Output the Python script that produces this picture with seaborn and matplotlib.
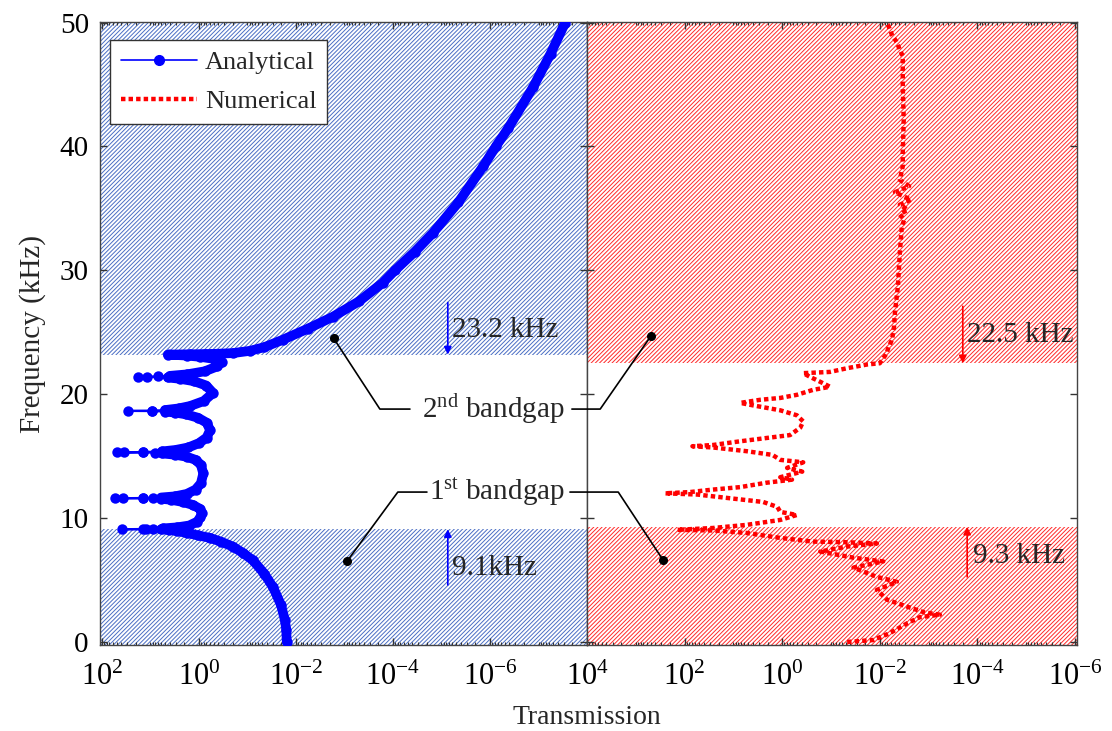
import numpy as np
import matplotlib
matplotlib.use("Agg")
import matplotlib.pyplot as plt
import seaborn as sns
from matplotlib.lines import Line2D
from matplotlib.ticker import FixedLocator, LogLocator, LogFormatterMathtext, NullFormatter

# ---------------- data ----------------
# Analytical transmission: frequency (kHz) and log10 of transmission
ana_freq = [0.0, 1.0, 1.8, 3.0, 4.4, 5.5, 6.6, 7.2, 7.7, 8.1, 8.4, 8.6, 8.8, 8.95,
            9.05, 9.08, 9.1, 9.1, 9.1,
            9.12, 9.16, 9.25, 9.4, 9.7, 10.05, 10.4, 10.75, 11.05, 11.3, 11.48, 11.56, 11.6, 11.6, 11.6, 11.6,
            11.62, 11.66, 11.75, 11.95, 12.3, 12.8, 13.6, 14.3, 14.7, 14.95, 15.12, 15.22, 15.28, 15.3, 15.3, 15.3,
            15.33, 15.38, 15.5, 15.7, 16.05, 16.5, 17.1, 17.7, 18.1, 18.38, 18.52, 18.6, 18.64, 18.65,
            18.67, 18.72, 18.85, 19.05, 19.45, 20.1, 20.7, 21.05, 21.25, 21.35, 21.4, 21.4,
            21.43, 21.48, 21.6, 21.85, 22.25, 22.6, 22.85, 23.02, 23.12, 23.2,
            23.22, 23.24, 23.27, 23.32, 23.5, 23.8, 24.4, 25.3, 26.25, 27.5, 29.0, 30.0, 31.5, 33.0,
            35.5, 38.4, 40.0, 41.5, 44.8, 47.5, 50.0]
ana_log10T = [-1.81, -1.80, -1.77, -1.69, -1.53, -1.35, -1.11, -0.90, -0.70, -0.45, -0.23, 0.02, 0.25, 0.45,
              0.62, 0.78, 0.95, 1.15, 1.59,
              1.10, 0.75, 0.45, 0.20, 0.04, -0.03, -0.06, -0.02, 0.12, 0.33, 0.58, 0.78, 0.95, 1.15, 1.57, 1.73,
              1.15, 0.78, 0.50, 0.25, 0.07, -0.04, -0.09, -0.04, 0.07, 0.25, 0.50, 0.76, 0.90, 1.15, 1.55, 1.69,
              1.15, 0.76, 0.48, 0.22, 0.00, -0.16, -0.23, -0.16, 0.02, 0.27, 0.50, 0.70, 0.97, 1.46,
              0.97, 0.70, 0.42, 0.18, -0.10, -0.29, -0.15, 0.10, 0.40, 0.64, 1.07, 1.26,
              0.85, 0.60, 0.25, -0.12, -0.38, -0.47, -0.32, -0.02, 0.25, 0.64,
              0.19, -0.12, -0.40, -0.70, -1.05, -1.35, -1.73, -2.25, -2.76, -3.30, -3.79, -4.04, -4.45, -4.82,
              -5.35, -5.86, -6.12, -6.38, -6.89, -7.25, -7.55]

# Numerical transmission: frequency (kHz) and log10 of transmission
num_freq = [0.0, 0.15, 0.7, 1.5, 2.0, 2.2, 2.4, 2.85, 3.4, 4.2, 4.85, 5.25, 6.0, 6.5, 6.8, 7.3, 7.7, 7.95,
            8.05, 8.1, 8.4, 8.8, 9.0, 9.05, 9.2, 9.45, 9.85, 10.25, 10.5, 10.9, 11.3, 11.6, 11.9, 12.0,
            12.1, 12.3, 12.5, 12.85, 13.1, 13.3, 13.75, 14.05, 14.5, 14.7, 15.1, 15.4, 15.7, 15.8, 15.9,
            16.2, 16.5, 16.7, 17.3, 17.8, 18.3, 18.7, 19.1, 19.3, 19.55, 19.7, 19.95, 20.35, 20.6, 21.0,
            21.4, 21.7, 21.8, 22.1, 22.4, 22.5, 23.3, 23.7, 24.4, 25.4, 26.6, 28.7, 31.4, 33.5, 34.1, 34.5,
            34.9, 35.3, 35.7, 36.3, 36.8, 37.3, 38.4, 39.5, 42.2, 44.8, 47.3, 47.8, 48.4, 49.0, 50.0]
num_log10T = [-1.33, -1.86, -2.20, -2.56, -2.82, -3.23, -2.90, -2.56, -2.15, -1.94, -2.35, -1.94, -1.46, -2.07,
              -1.46, -0.78, -1.33, -1.94, -1.33, -0.63, 0.04, 0.73, 1.42, 2.15, 1.42, 0.73, 0.04, -0.30, 0.04,
              0.10, 0.39, 1.07, 1.74, 2.40, 1.89, 1.42, 0.86, 0.33, -0.20, 0.04, -0.41, -0.10, -0.43, 0.04,
              0.20, 0.73, 1.42, 1.84, 1.42, 0.86, 0.25, -0.16, -0.37, -0.43, -0.30, 0.04, 0.60, 0.86, 0.45,
              0.04, -0.30, -0.63, -0.98, -0.78, -0.57, -0.43, -0.98, -1.33, -1.74, -2.00, -2.14, -2.17, -2.25,
              -2.29, -2.31, -2.37, -2.41, -2.45, -2.50, -2.41, -2.57, -2.41, -2.64, -2.31, -2.60, -2.41, -2.47,
              -2.47, -2.49, -2.47, -2.47, -2.41, -2.35, -2.25, -2.15]

# band-gap limits (kHz)
ana_gaps = [(9.1, 23.2)]
num_gaps = [(9.3, 22.5)]
ana_edge_labels = ["9.1kHz", "23.2 kHz"]
num_edge_labels = ["9.3 kHz", "22.5 kHz"]
legend_labels = ["Analytical", "Numerical"]

ana_T = 10.0 ** np.asarray(ana_log10T)
num_T = 10.0 ** np.asarray(num_log10T)

# the densely sampled stretches of the analytical curve merge into a solid band;
# the sharp resonance peaks (high transmission) are sampled sparsely
dense = np.asarray(ana_log10T) <= 0.8
seg_id = np.cumsum(np.r_[0, np.diff(dense.astype(int)) != 0])
band_T = ana_T[dense]
band_f = np.asarray(ana_freq)[dense]
band_seg = seg_id[dense]

# ---------------- style ----------------
sns.set_theme(style="ticks")
plt.rcParams["font.family"] = ["Liberation Serif", "DejaVu Serif"]
plt.rcParams["mathtext.fontset"] = "custom"
plt.rcParams["mathtext.rm"] = "Liberation Serif"
plt.rcParams["mathtext.it"] = "Liberation Serif:italic"
plt.rcParams["mathtext.bf"] = "Liberation Serif:bold"
plt.rcParams["hatch.linewidth"] = 0.7
plt.rcParams["axes.unicode_minus"] = False

BLUE_HATCH = "#4a6ec4"
RED_HATCH = "#ff2a2a"
FS = 21

fig = plt.figure(figsize=(11.12, 7.31), dpi=100)
axL = fig.add_axes([0.0899, 0.1176, 0.4380, 0.8523])
axR = fig.add_axes([0.5279, 0.1176, 0.4406, 0.8523])

YLIM = (-0.25, 50.05)

for ax, xlim, majors in [
    (axL, (10 ** 2.04, 1e-8), [1e2, 1e0, 1e-2, 1e-4, 1e-6]),
    (axR, (1e4, 10 ** -6.04), [1e4, 1e2, 1e0, 1e-2, 1e-4, 1e-6]),
]:
    ax.set_xscale("log")
    ax.set_xlim(*xlim)
    ax.set_ylim(*YLIM)
    ax.xaxis.set_major_locator(FixedLocator(majors))
    ax.xaxis.set_major_formatter(LogFormatterMathtext())
    ax.xaxis.set_minor_locator(LogLocator(base=10, subs=np.arange(1, 10) * 1.0, numticks=200))
    ax.xaxis.set_minor_formatter(NullFormatter())
    ax.set_yticks([0, 10, 20, 30, 40, 50])
    ax.tick_params(axis="both", which="both", direction="in", top=True, right=True,
                   labelsize=FS, colors="#333333", labelcolor="black", pad=8)
    ax.tick_params(axis="x", which="major", labelsize=22, pad=13)
    ax.tick_params(axis="both", which="major", length=5, width=1)
    ax.tick_params(axis="both", which="minor", length=2.5, width=0.8)
    for s in ax.spines.values():
        s.set_color("#444444")
        s.set_linewidth(1.0)

axR.tick_params(axis="y", labelleft=False)

# hatched stop bands
HATCH = "////////"
for lo, hi in ana_gaps:
    axL.axhspan(YLIM[0], lo, facecolor="none", edgecolor=BLUE_HATCH, hatch=HATCH, linewidth=0, zorder=0)
    axL.axhspan(hi, YLIM[1], facecolor="none", edgecolor=BLUE_HATCH, hatch=HATCH, linewidth=0, zorder=0)
for lo, hi in num_gaps:
    axR.axhspan(YLIM[0], lo, facecolor="none", edgecolor=RED_HATCH, hatch=HATCH, linewidth=0, zorder=0)
    axR.axhspan(hi, YLIM[1], facecolor="none", edgecolor=RED_HATCH, hatch=HATCH, linewidth=0, zorder=0)

# transmission curves
sns.lineplot(x=band_T, y=band_f, units=band_seg, sort=False, estimator=None, ax=axL, color="blue",
             linewidth=7.0, legend=False, zorder=3)
sns.lineplot(x=ana_T, y=ana_freq, sort=False, estimator=None, ax=axL, color="blue",
             linewidth=1.6, marker="o", markersize=7.5, markeredgewidth=0, legend=False, zorder=3)
sns.lineplot(x=num_T, y=num_freq, sort=False, estimator=None, ax=axR, color="red",
             linewidth=3.2, linestyle=(0, (1, 0.7)), legend=False, zorder=3)

# legend
handles = [
    Line2D([], [], color="blue", linewidth=1.2, marker="o", markersize=7),
    Line2D([], [], color="red", linewidth=3.2, linestyle=(0, (1, 0.7))),
]
leg = axL.legend(handles, legend_labels, loc="upper left", bbox_to_anchor=(0.0205, 0.971),
                 borderaxespad=0, fontsize=19, frameon=True, fancybox=False, framealpha=1,
                 edgecolor="#333333", handlelength=2.9, handletextpad=0.3, borderpad=0.4,
                 labelspacing=0.6)
leg.get_frame().set_linewidth(1.0)
leg.set_zorder(5)

# band-edge arrows and labels
def edge_arrow(ax, x_log, f_from, f_to, color):
    ax.annotate("", xy=(10 ** x_log, f_to), xytext=(10 ** x_log, f_from),
                arrowprops=dict(arrowstyle="-|>", color=color, lw=1.2, mutation_scale=11,
                                shrinkA=0, shrinkB=0), zorder=4)

edge_arrow(axL, -5.13, 27.4, ana_gaps[0][1], "blue")
edge_arrow(axL, -5.13, 4.6, ana_gaps[0][0], "blue")
axL.text(10 ** -5.22, 25.2, ana_edge_labels[1], fontsize=FS, ha="left", va="center", zorder=4)
axL.text(10 ** -5.22, 6.0, ana_edge_labels[0], fontsize=FS, ha="left", va="center", zorder=4)

edge_arrow(axR, -3.70, 27.1, num_gaps[0][1], "red")
edge_arrow(axR, -3.79, 5.25, num_gaps[0][0], "red")
axR.text(10 ** -3.79, 24.8, num_edge_labels[1], fontsize=FS, ha="left", va="center", zorder=4)
axR.text(10 ** -3.91, 6.9, num_edge_labels[0], fontsize=FS, ha="left", va="center", zorder=4)

# band-gap callouts
def callout(text, f_text, x_text, left_pts, right_pts):
    axL.text(10 ** x_text, f_text, text, fontsize=FS, ha="center", va="center", zorder=6)
    lx = [10 ** p[0] for p in left_pts]
    ly = [p[1] for p in left_pts]
    axL.plot(lx, ly, color="black", lw=1.2, clip_on=False, zorder=6)
    axL.plot(lx[0], ly[0], "o", color="black", ms=5.5, zorder=6)
    rx = [10 ** p[0] for p in right_pts]
    ry = [p[1] for p in right_pts]
    axR.plot(rx, ry, color="black", lw=1.2, clip_on=False, zorder=6)
    axR.plot(rx[-1], ry[-1], "o", color="black", ms=5.5, zorder=6)

callout(r"2$^{\mathrm{nd}}$ bandgap", 18.8, -6.07,
        [(-2.78, 24.5), (-3.73, 18.8), (-4.35, 18.8)],
        [(4.31, 18.8), (3.73, 18.8), (2.69, 24.7)])
callout(r"1$^{\mathrm{st}}$ bandgap", 12.1, -6.15,
        [(-3.05, 6.5), (-4.10, 12.1), (-4.70, 12.1)],
        [(4.35, 12.1), (3.36, 12.1), (2.44, 6.6)])

axL.set_ylabel("Frequency (kHz)", fontsize=FS, labelpad=10)
fig.text(0.5279, 0.019, "Transmission", fontsize=20, ha="center", va="center")

fig.savefig("out.png", dpi=100)
